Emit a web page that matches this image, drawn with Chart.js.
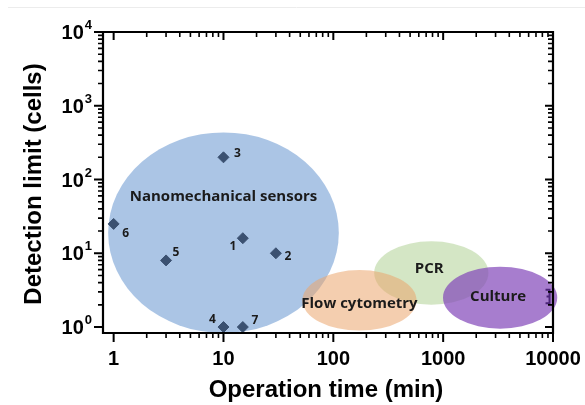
<!DOCTYPE html>
<html>
<head>
<meta charset="utf-8">
<script src="https://cdn.jsdelivr.net/npm/chart.js@4"></script>
<style>
  html, body { margin: 0; padding: 0; background: #fff; }
  #wrap { width: 585px; height: 405px; }
</style>
</head>
<body>
<div id="wrap"><canvas id="myChart" width="585" height="405"></canvas></div>
<script>
/*************** data ****************/
const pointIds = ['1', '2', '3', '4', '5', '6', '7'];
const opTime   = [15, 30, 10, 10, 3, 1, 15];      // min
const detLimit = [16, 10, 200, 1, 8, 25, 1];      // cells

// detection-method regions: centre and half span (in decades)
const regionNames    = ['Nanomechanical sensors', 'PCR', 'Flow cytometry', 'Culture'];
const regionTime     = [10, 780, 173, 3300];
const regionLimit    = [19, 5.4, 2.3, 2.5];
const regionTimeHalf = [1.05, 0.52, 0.52, 0.52];
const regionLimHalf  = [1.36, 0.43, 0.41, 0.42];

// small culture error bar on the right edge
const cultureBarTime = 9300;
const cultureBarLow  = 2.1;
const cultureBarHigh = 3.2;

const xTickValues = [1, 10, 100, 1000, 10000];
const xTickLabels = ['1', '10', '100', '1000', '10000'];
const yTickValues = [1, 10, 100, 1000, 10000];
const yTickExps   = ['0', '1', '2', '3', '4'];

/*************** styling ****************/
const regionColors = [
  'rgba(150,183,222,0.8)',
  'rgba(170,205,140,0.5)',
  'rgba(235,165,110,0.55)',
  'rgba(130,70,185,0.7)'
];
const labelOffsets = [[-10, 8], [12, 3], [14, -4], [-11, -7], [10, -8], [12, 10], [12, -6]];

/*************** plugin: regions, frame, ticks, labels ****************/
function minorValues(lo, hi) {
  const out = [];
  for (let d = lo; d < hi; d *= 10) {
    for (let m = 2; m <= 9; m++) out.push(d * m);
  }
  return out;
}

const decor = {
  id: 'decor',
  beforeDatasetsDraw(chart) {
    const ctx = chart.ctx, xs = chart.scales.x, ys = chart.scales.y;
    ctx.save();
    for (let i = 0; i < regionNames.length; i++) {
      const cx = xs.getPixelForValue(regionTime[i]);
      const cy = ys.getPixelForValue(regionLimit[i]);
      const rx = xs.getPixelForValue(regionTime[i] * Math.pow(10, regionTimeHalf[i])) - cx;
      const ry = cy - ys.getPixelForValue(regionLimit[i] * Math.pow(10, regionLimHalf[i]));
      ctx.beginPath();
      ctx.ellipse(cx, cy, rx, ry, 0, 0, Math.PI * 2);
      ctx.fillStyle = regionColors[i];
      ctx.fill();
    }
    ctx.fillStyle = '#1b1b1b';
    ctx.font = 'bold 15px "Open Sans"';
    ctx.textAlign = 'center';
    ctx.textBaseline = 'middle';
    const textNudge = [[0, -36], [-2, -4], [0, 3], [-2, -1]];
    for (let i = 0; i < regionNames.length; i++) {
      const cx = xs.getPixelForValue(regionTime[i]);
      const cy = ys.getPixelForValue(regionLimit[i]);
      ctx.fillText(regionNames[i], cx + textNudge[i][0], cy + textNudge[i][1]);
    }
    ctx.restore();
  },
  afterDatasetsDraw(chart) {
    const ctx = chart.ctx, xs = chart.scales.x, ys = chart.scales.y;
    const a = chart.chartArea;
    ctx.save();

    // faint page rule at the top
    ctx.strokeStyle = '#ececec';
    ctx.lineWidth = 1;
    ctx.beginPath(); ctx.moveTo(8, 7.5); ctx.lineTo(585, 7.5); ctx.stroke();

    // culture error bar
    const ex = xs.getPixelForValue(cultureBarTime);
    const eyl = ys.getPixelForValue(cultureBarLow);
    const eyh = ys.getPixelForValue(cultureBarHigh);
    ctx.strokeStyle = '#4b2478';
    ctx.lineWidth = 2;
    ctx.beginPath();
    ctx.moveTo(ex - 4, eyh); ctx.lineTo(ex, eyh); ctx.lineTo(ex, eyl); ctx.lineTo(ex - 4, eyl);
    ctx.moveTo(ex - 3, (eyh + eyl) / 2); ctx.lineTo(ex, (eyh + eyl) / 2);
    ctx.stroke();

    // frame
    ctx.strokeStyle = '#000';
    ctx.lineWidth = 2.2;
    ctx.beginPath();
    ctx.rect(a.left, a.top, a.right - a.left, a.bottom - a.top);
    ctx.stroke();

    // ticks
    const xMin = minorValues(1, 10000), yMin = minorValues(1, 10000);
    ctx.lineWidth = 2;
    ctx.beginPath();
    xTickValues.forEach(v => {
      const px = xs.getPixelForValue(v);
      ctx.moveTo(px, a.bottom); ctx.lineTo(px, a.bottom + 9);
      ctx.moveTo(px, a.top); ctx.lineTo(px, a.top + 8);
    });
    yTickValues.forEach(v => {
      const py = ys.getPixelForValue(v);
      ctx.moveTo(a.left, py); ctx.lineTo(a.left - 9, py);
      ctx.moveTo(a.right, py); ctx.lineTo(a.right - 8, py);
    });
    ctx.stroke();
    ctx.lineWidth = 1.6;
    ctx.beginPath();
    xMin.forEach(v => {
      const px = xs.getPixelForValue(v);
      ctx.moveTo(px, a.bottom); ctx.lineTo(px, a.bottom + 5);
      ctx.moveTo(px, a.top); ctx.lineTo(px, a.top + 5);
    });
    yMin.forEach(v => {
      const py = ys.getPixelForValue(v);
      ctx.moveTo(a.left, py); ctx.lineTo(a.left - 5, py);
      ctx.moveTo(a.right, py); ctx.lineTo(a.right - 5, py);
    });
    ctx.stroke();

    // tick labels
    ctx.fillStyle = '#000';
    ctx.textBaseline = 'alphabetic';
    ctx.textAlign = 'center';
    ctx.font = 'bold 20px "Liberation Sans"';
    xTickValues.forEach((v, i) => {
      ctx.fillText(xTickLabels[i], xs.getPixelForValue(v), a.bottom + 32);
    });
    yTickValues.forEach((v, i) => {
      const py = ys.getPixelForValue(v);
      ctx.font = 'bold 13px "Liberation Sans"';
      const ew = ctx.measureText(yTickExps[i]).width;
      ctx.textAlign = 'right';
      ctx.fillText(yTickExps[i], 92, py - 3);
      ctx.font = 'bold 20px "Liberation Sans"';
      ctx.fillText('10', 92 - ew - 1, py + 7);
    });

    // axis titles
    ctx.font = 'bold 24px "Liberation Sans"';
    ctx.textAlign = 'center';
    ctx.fillText('Operation time (min)', 326, 397);
    ctx.save();
    ctx.translate(41, 184);
    ctx.rotate(-Math.PI / 2);
    ctx.fillText('Detection limit (cells)', 0, 0);
    ctx.restore();

    // point labels
    ctx.font = 'bold 12px "Open Sans"';
    ctx.textBaseline = 'middle';
    ctx.fillStyle = '#1b1b1b';
    const meta = chart.getDatasetMeta(0);
    meta.data.forEach((pt, i) => {
      ctx.fillText(pointIds[i], pt.x + labelOffsets[i][0], pt.y + labelOffsets[i][1]);
    });
    ctx.restore();
  }
};

/*************** chart ****************/
const ctx = document.getElementById('myChart').getContext('2d');

new Chart(ctx, {
  type: 'scatter',
  data: {
    datasets: [{
      label: 'Nanomechanical sensors',
      data: opTime.map((t, i) => ({ x: t, y: detLimit[i] })),
      pointStyle: 'rectRot',
      pointRadius: 5.5,
      pointHoverRadius: 5.5,
      backgroundColor: '#3b5171',
      borderColor: '#3b5171',
      borderWidth: 1
    }]
  },
  options: {
    responsive: false,
    animation: false,
    devicePixelRatio: 1,
    layout: { padding: { left: 0, top: 32, right: 32, bottom: 0 } },
    scales: {
      x: {
        type: 'logarithmic',
        min: 0.8,
        max: 10000,
        grid: { display: false },
        border: { display: false },
        ticks: { display: false },
        afterFit: s => { s.height = 72; }
      },
      y: {
        type: 'logarithmic',
        min: 0.83,
        max: 10000,
        grid: { display: false },
        border: { display: false },
        ticks: { display: false },
        afterFit: s => { s.width = 103; }
      }
    },
    plugins: {
      legend: { display: false },
      tooltip: { enabled: false }
    }
  },
  plugins: [decor]
});
</script>
</body>
</html>
